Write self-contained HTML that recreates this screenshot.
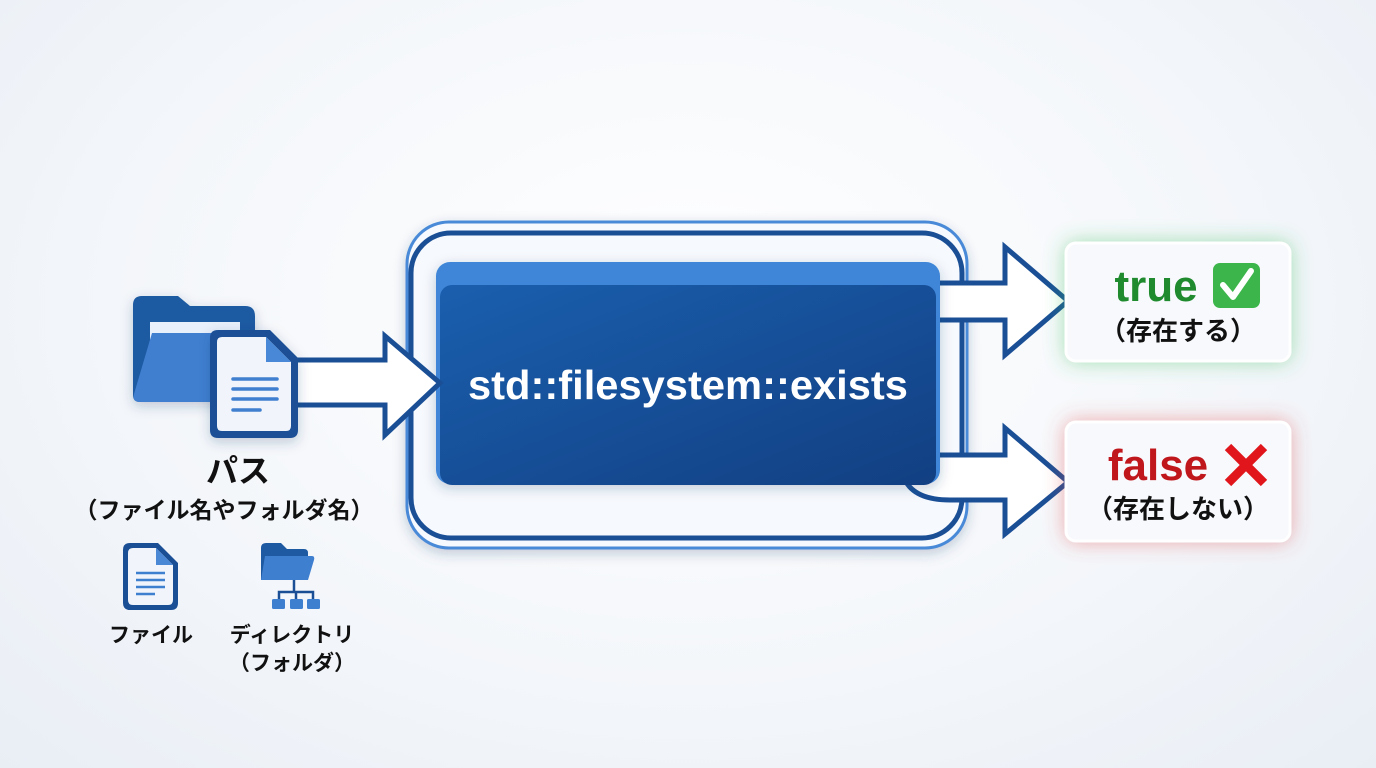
<!DOCTYPE html>
<html><head><meta charset="utf-8"><style>
body{margin:0;width:1376px;height:768px;overflow:hidden;background:radial-gradient(ellipse at 50% 40%,#ffffff 0%,#f3f6fa 60%,#e9eef5 100%);font-family:"Liberation Sans","Noto Sans CJK JP",sans-serif}
svg{position:absolute;left:0;top:0}
text{font-family:"Liberation Sans","Noto Sans CJK JP",sans-serif;font-weight:bold}
</style></head><body>
<svg width="1376" height="768" viewBox="0 0 1376 768">
<defs>
<linearGradient id="bx" x1="0" y1="0" x2="1" y2="1"><stop offset="0" stop-color="#1a5fae"/><stop offset="1" stop-color="#123f82"/></linearGradient>
<filter id="sh" x="-20%" y="-20%" width="140%" height="140%"><feDropShadow dx="0" dy="4" stdDeviation="6" flood-color="#1a3a6a" flood-opacity="0.25"/></filter>
<filter id="gg" x="-30%" y="-30%" width="160%" height="160%"><feDropShadow dx="0" dy="0" stdDeviation="10" flood-color="#3cc05a" flood-opacity="0.45"/></filter>
<filter id="rg" x="-30%" y="-30%" width="160%" height="160%"><feDropShadow dx="0" dy="0" stdDeviation="10" flood-color="#e04848" flood-opacity="0.45"/></filter>
</defs>
<rect x="407" y="222" width="560" height="326" rx="42" fill="#f6f9fd" stroke="#4a8ad8" stroke-width="3" filter="url(#sh)"/>
<rect x="411" y="233" width="551" height="305" rx="40" fill="none" stroke="#1a4f96" stroke-width="5"/>
<path d="M930 283 H1005 V247 L1068 301 L1005 355 V320 H930 Z" fill="#fff" stroke="#1a4f96" stroke-width="5" stroke-linejoin="miter"/>
<path d="M930 455 H1005 V428 L1068 482 L1005 534 V500 H950 Q915 500 905 480 Z" fill="#fff" stroke="#1a4f96" stroke-width="5"/>
<line x1="962" y1="320" x2="962" y2="455" stroke="#1a4f96" stroke-width="5"/>
<rect x="436" y="262" width="504" height="222" rx="14" fill="#3f86d8" filter="url(#sh)"/>
<rect x="440" y="285" width="496" height="200" rx="12" fill="url(#bx)"/>
<text x="688" y="399" font-size="41" fill="#fff" text-anchor="middle" textLength="440" lengthAdjust="spacingAndGlyphs">std::filesystem::exists</text>
<path d="M290 360 H385 V336 L440 383 L385 435 V405 H290 Z" fill="#fff" stroke="#1a4f96" stroke-width="5"/>
<g filter="url(#sh)">
<path d="M133 305 Q133 296 142 296 H178 L190 306 H245 Q255 306 255 316 V395 Q255 402 248 402 H140 Q133 402 133 395 Z" fill="#1d5aa2"/>
<path d="M150 322 H240 V360 H150 Z" fill="#e8f0fb"/>
<path d="M152 333 H250 Q258 333 256 341 L247 395 Q246 402 238 402 H140 Q132 402 134 394 Z" fill="#3f7fd0"/>
</g>
<g filter="url(#sh)">
<path d="M218 330 H270 L298 358 V430 Q298 438 290 438 H218 Q210 438 210 430 V338 Q210 330 218 330 Z" fill="#1a4f96"/>
<path d="M222 337 H266 L291 362 V426 Q291 431 286 431 H222 Q217 431 217 426 V342 Q217 337 222 337 Z" fill="#f1f5fb"/>
<path d="M266 337 V362 H291 Z" fill="#4a88d6"/>
<g stroke="#3f7fd0" stroke-width="3.5" stroke-linecap="round"><line x1="233" y1="379" x2="277" y2="379"/><line x1="233" y1="389" x2="277" y2="389"/><line x1="233" y1="399" x2="277" y2="399"/><line x1="233" y1="410" x2="260" y2="410"/></g>
</g>
<text x="238" y="482" font-size="32" fill="#111" text-anchor="middle">パス</text>
<text x="224" y="518" font-size="23" fill="#111" text-anchor="middle">（ファイル名やフォルダ名）</text>
<g>
<path d="M130 543 H158 L178 563 V603 Q178 610 171 610 H130 Q123 610 123 603 V550 Q123 543 130 543 Z" fill="#1a4f96"/>
<path d="M133 548 H156 L173 565 V600 Q173 605 168 605 H133 Q128 605 128 600 V553 Q128 548 133 548 Z" fill="#f1f5fb"/>
<path d="M156 548 V565 H173 Z" fill="#4a88d6"/>
<g stroke="#3f7fd0" stroke-width="2.5"><line x1="136" y1="573" x2="165" y2="573"/><line x1="136" y1="580" x2="165" y2="580"/><line x1="136" y1="587" x2="165" y2="587"/><line x1="136" y1="594" x2="155" y2="594"/></g>
</g>
<g>
<path d="M261 548 Q261 543 266 543 H281 L287 549 H304 Q308 549 308 553 V580 H261 Z" fill="#1d5aa2"/>
<path d="M265 556 H312 Q315 556 314 560 L308 580 H261 Z" fill="#3f7fd0"/>
<g stroke="#1a4f96" stroke-width="2.5" fill="none"><line x1="294" y1="580" x2="294" y2="592"/><path d="M279 600 V592 H313 V600"/><line x1="296" y1="592" x2="296" y2="600"/></g>
<rect x="272" y="599" width="13" height="10" rx="1.5" fill="#3f7fd0"/><rect x="290" y="599" width="13" height="10" rx="1.5" fill="#3f7fd0"/><rect x="307" y="599" width="13" height="10" rx="1.5" fill="#3f7fd0"/>
</g>
<text x="151" y="642" font-size="21" fill="#111" text-anchor="middle">ファイル</text>
<text x="292" y="642" font-size="21" fill="#111" text-anchor="middle">ディレクトリ</text>
<text x="292" y="670" font-size="21" fill="#111" text-anchor="middle">（フォルダ）</text>
<rect x="1066" y="243" width="224" height="118" rx="10" fill="#f7f9fc" stroke="#fff" stroke-width="3" filter="url(#gg)"/>
<text x="1156" y="301" font-size="44" fill="#1f8a2e" text-anchor="middle">true</text>
<rect x="1213" y="263" width="47" height="45" rx="7" fill="#3cb54a"/>
<path d="M1223 285 L1233 297 L1251 271" stroke="#fff" stroke-width="6" fill="none" stroke-linecap="round" stroke-linejoin="round"/>
<text x="1178" y="340" font-size="26" fill="#111" text-anchor="middle">（存在する）</text>
<rect x="1066" y="422" width="224" height="119" rx="10" fill="#f7f9fc" stroke="#fff" stroke-width="3" filter="url(#rg)"/>
<text x="1158" y="480" font-size="44" fill="#c0171d" text-anchor="middle">false</text>
<path d="M1228 447 L1264 483 M1264 447 L1228 483" stroke="#e0161c" stroke-width="9"/>
<text x="1178" y="518" font-size="26" fill="#111" text-anchor="middle">（存在しない）</text>
</svg>
</body></html>
